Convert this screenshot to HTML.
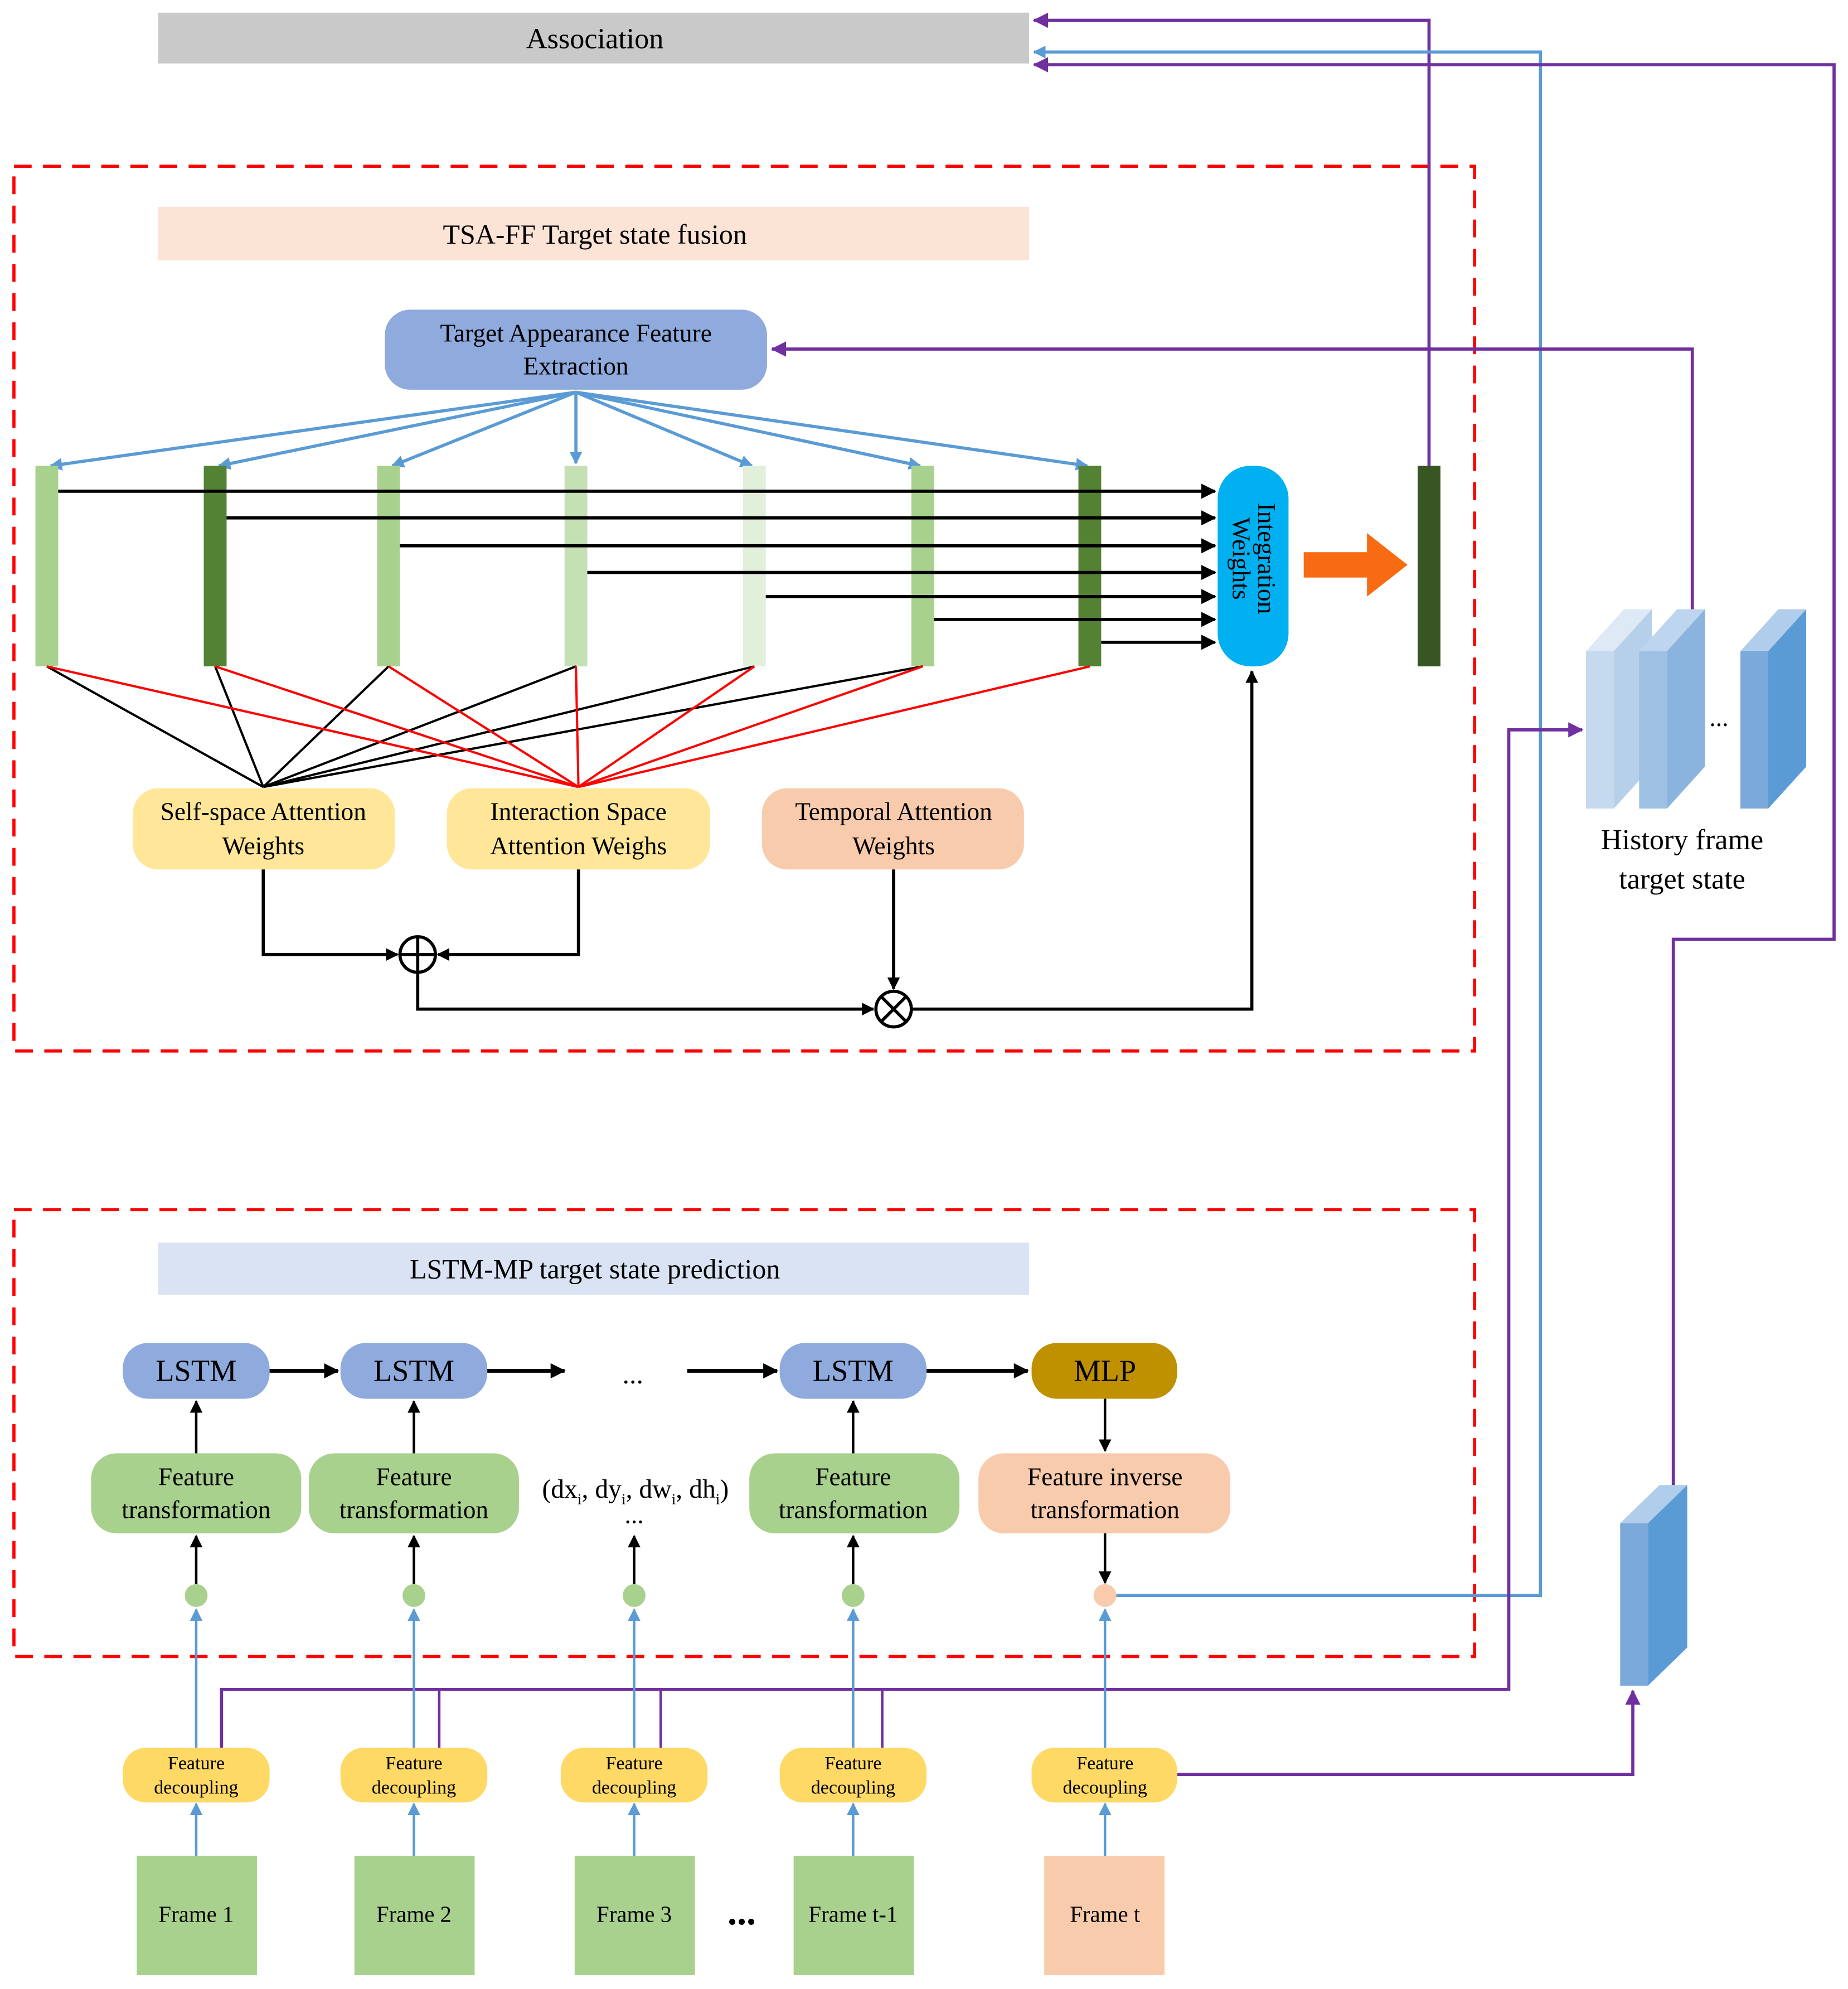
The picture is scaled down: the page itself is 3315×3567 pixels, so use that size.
<!DOCTYPE html>
<html><head><meta charset="utf-8"><style>html,body{margin:0;padding:0;background:#fff}svg{display:block}</style></head>
<body>
<svg width="3315" height="3567" viewBox="0 0 1460 1567" preserveAspectRatio="none" xmlns="http://www.w3.org/2000/svg" font-family="'Liberation Serif', serif">
<defs>
<marker id="ab" markerWidth="10" markerHeight="10" refX="9" refY="5" orient="auto" markerUnits="userSpaceOnUse"><path d="M0,0 L10,5 L0,10 z" fill="#000"/></marker>
<marker id="abb" markerWidth="12" markerHeight="12" refX="11" refY="6" orient="auto" markerUnits="userSpaceOnUse"><path d="M0,0 L12,6 L0,12 z" fill="#000"/></marker>
<marker id="al" markerWidth="10" markerHeight="10" refX="9" refY="5" orient="auto" markerUnits="userSpaceOnUse"><path d="M0,0 L10,5 L0,10 z" fill="#5b9bd5"/></marker>
<marker id="ap" markerWidth="12" markerHeight="12" refX="11" refY="6" orient="auto" markerUnits="userSpaceOnUse"><path d="M0,0 L12,6 L0,12 z" fill="#7030a0"/></marker>
</defs>

<rect x="125" y="10" width="688" height="40" fill="#c9c9c9"/>
<text x="470" y="38" font-size="23" text-anchor="middle">Association</text>

<rect x="11" y="131" width="1154" height="697" fill="none" stroke="#ff0000" stroke-width="2.5" stroke-dasharray="14,9"/>
<rect x="11" y="953" width="1154" height="352" fill="none" stroke="#ff0000" stroke-width="2.5" stroke-dasharray="14,9"/>

<rect x="125" y="163" width="688" height="42" fill="#fbe3d5"/>
<text x="470" y="192" font-size="22" text-anchor="middle">TSA-FF  Target state fusion</text>

<g fill="none" stroke-width="2.5">
<path d="M1129,367 V16 H817" stroke="#7030a0" marker-end="url(#ap)"/>
<path d="M873,1257 H1217 V41 H817" stroke="#5b9bd5" marker-end="url(#al)"/>
<path d="M1322,1170 V740 H1449 V51 H817" stroke="#7030a0" marker-end="url(#ap)"/>
<path d="M1337,480 V275 H610" stroke="#7030a0" marker-end="url(#ap)"/>
<path d="M175,1378 V1331 H1192 V575 H1250" stroke="#7030a0" marker-end="url(#ap)"/>
<path d="M347,1378 V1331 M522,1378 V1331 M697,1378 V1331" stroke="#7030a0" stroke-width="2"/>
<path d="M930,1398 H1290 V1332" stroke="#7030a0" marker-end="url(#ap)"/>
</g>

<rect x="304" y="244" width="302" height="63" rx="20" fill="#8faadc"/>
<text x="455" y="269" font-size="20" text-anchor="middle">Target Appearance Feature</text>
<text x="455" y="295" font-size="20" text-anchor="middle">Extraction</text>

<g stroke="#5b9bd5" stroke-width="2.5" marker-end="url(#al)">
<line x1="455" y1="309" x2="40" y2="367"/>
<line x1="455" y1="309" x2="173" y2="367"/>
<line x1="455" y1="309" x2="310" y2="367"/>
<line x1="455" y1="309" x2="455" y2="365"/>
<line x1="455" y1="309" x2="594" y2="367"/>
<line x1="455" y1="309" x2="727" y2="367"/>
<line x1="455" y1="309" x2="859" y2="367"/>
</g>

<rect x="28" y="367" width="18" height="158" fill="#a9d18e"/>
<rect x="161" y="367" width="18" height="158" fill="#548235"/>
<rect x="298" y="367" width="18" height="158" fill="#a9d18e"/>
<rect x="446" y="367" width="18" height="158" fill="#c5e0b4"/>
<rect x="587" y="367" width="18" height="158" fill="#e2efda"/>
<rect x="720" y="367" width="18" height="158" fill="#a9d18e"/>
<rect x="852" y="367" width="18" height="158" fill="#548235"/>
<rect x="1120" y="367" width="18" height="158" fill="#375623"/>

<g stroke="#000" stroke-width="2.5" marker-end="url(#abb)">
<line x1="46" y1="387" x2="960" y2="387"/>
<line x1="179" y1="408" x2="960" y2="408"/>
<line x1="316" y1="430" x2="960" y2="430"/>
<line x1="464" y1="451" x2="960" y2="451"/>
<line x1="605" y1="470" x2="960" y2="470"/>
<line x1="738" y1="488" x2="960" y2="488"/>
<line x1="870" y1="506" x2="960" y2="506"/>
</g>
<rect x="962" y="367" width="56" height="158" rx="26" fill="#00b0f0"/>
<text transform="translate(990,440) rotate(90)" font-size="20" text-anchor="middle"><tspan x="0" y="-4">Integration</tspan><tspan x="0" y="16">Weights</tspan></text>
<path d="M1030,435 H1080 V420 L1112,445 L1080,470 V455 H1030 z" fill="#f96b12"/>

<g stroke="#000" stroke-width="1.8">
<line x1="37" y1="525" x2="208" y2="620"/><line x1="170" y1="525" x2="208" y2="620"/>
<line x1="307" y1="525" x2="208" y2="620"/><line x1="455" y1="525" x2="208" y2="620"/>
<line x1="596" y1="525" x2="208" y2="620"/><line x1="729" y1="525" x2="208" y2="620"/>
</g>
<g stroke="#ff0000" stroke-width="1.8">
<line x1="37" y1="525" x2="457" y2="620"/><line x1="170" y1="525" x2="457" y2="620"/>
<line x1="307" y1="525" x2="457" y2="620"/><line x1="455" y1="525" x2="457" y2="620"/>
<line x1="596" y1="525" x2="457" y2="620"/><line x1="729" y1="525" x2="457" y2="620"/>
<line x1="861" y1="525" x2="457" y2="620"/>
</g>

<rect x="105" y="621" width="207" height="64" rx="20" fill="#ffe699"/>
<text x="208" y="646" font-size="20" text-anchor="middle">Self-space Attention</text>
<text x="208" y="673" font-size="20" text-anchor="middle">Weights</text>
<rect x="353" y="621" width="208" height="64" rx="20" fill="#ffe699"/>
<text x="457" y="646" font-size="20" text-anchor="middle">Interaction Space</text>
<text x="457" y="673" font-size="20" text-anchor="middle">Attention Weighs</text>
<rect x="602" y="621" width="207" height="64" rx="20" fill="#f8cbad"/>
<text x="706" y="646" font-size="20" text-anchor="middle">Temporal Attention</text>
<text x="706" y="673" font-size="20" text-anchor="middle">Weights</text>

<g fill="none" stroke="#000" stroke-width="2.5">
<path d="M208,685 V752 H314" marker-end="url(#ab)"/>
<path d="M457,685 V752 H346" marker-end="url(#ab)"/>
<path d="M330,766 V795 H690" marker-end="url(#ab)"/>
<path d="M706,685 V779" marker-end="url(#ab)"/>
<path d="M720,795 H989 V529" marker-end="url(#ab)"/>
<circle cx="330" cy="752" r="14" fill="#fff"/>
<path d="M316,752 H344 M330,738 V766"/>
<circle cx="706" cy="795" r="14" fill="#fff"/>
<path d="M696,785 L716,805 M716,785 L696,805"/>
</g>

<g>
<polygon points="1253,513 1275,513 1305,480 1283,480" fill="#ddeaf6"/>
<rect x="1253" y="513" width="22" height="124" fill="#c5daef"/>
<polygon points="1275,513 1305,480 1305,604 1275,637" fill="#b7d0ea"/>
<polygon points="1295,513 1317,513 1347,480 1325,480" fill="#bdd5ee"/>
<rect x="1295" y="513" width="22" height="124" fill="#9dc0e3"/>
<polygon points="1317,513 1347,480 1347,604 1317,637" fill="#8ab4de"/>
<polygon points="1375,513 1397,513 1427,480 1405,480" fill="#b0cdeb"/>
<rect x="1375" y="513" width="22" height="124" fill="#7aa9da"/>
<polygon points="1397,513 1427,480 1427,604 1397,637" fill="#5b9bd5"/>
<text x="1358" y="572" font-size="20" text-anchor="middle">...</text>
<text x="1329" y="669" font-size="23" text-anchor="middle">History frame</text>
<text x="1329" y="700" font-size="23" text-anchor="middle">target state</text>
<polygon points="1280,1200 1302,1200 1333,1170 1311,1170" fill="#b0cdeb"/>
<rect x="1280" y="1200" width="22" height="128" fill="#7aa9da"/>
<polygon points="1302,1200 1333,1170 1333,1298 1302,1328" fill="#5b9bd5"/>
</g>

<rect x="125" y="979" width="688" height="41" fill="#dae3f3"/>
<text x="470" y="1007" font-size="22" text-anchor="middle">LSTM-MP  target state prediction</text>

<g font-size="24" text-anchor="middle">
<rect x="97" y="1058" width="116" height="44" rx="20" fill="#8faadc"/><text x="155" y="1088">LSTM</text>
<rect x="269" y="1058" width="116" height="44" rx="20" fill="#8faadc"/><text x="327" y="1088">LSTM</text>
<rect x="616" y="1058" width="116" height="44" rx="20" fill="#8faadc"/><text x="674" y="1088">LSTM</text>
<rect x="815" y="1058" width="115" height="44" rx="20" fill="#bf9000"/><text x="873" y="1088">MLP</text>
</g>
<text x="500" y="1090" font-size="22" text-anchor="middle">...</text>
<g stroke="#000" stroke-width="3" marker-end="url(#abb)">
<line x1="213" y1="1080" x2="267" y2="1080"/>
<line x1="385" y1="1080" x2="446" y2="1080"/>
<line x1="543" y1="1080" x2="614" y2="1080"/>
<line x1="732" y1="1080" x2="812" y2="1080"/>
</g>

<g font-size="20" text-anchor="middle">
<rect x="72" y="1145" width="166" height="63" rx="20" fill="#a9d18e"/><text x="155" y="1170">Feature</text><text x="155" y="1196">transformation</text>
<rect x="244" y="1145" width="166" height="63" rx="20" fill="#a9d18e"/><text x="327" y="1170">Feature</text><text x="327" y="1196">transformation</text>
<rect x="592" y="1145" width="166" height="63" rx="20" fill="#a9d18e"/><text x="674" y="1170">Feature</text><text x="674" y="1196">transformation</text>
<rect x="773" y="1145" width="199" height="63" rx="20" fill="#f8cbad"/><text x="873" y="1170">Feature inverse</text><text x="873" y="1196">transformation</text>
<text x="502" y="1180" font-size="21">(dx<tspan font-size="12" dy="5">i</tspan><tspan dy="-5">, dy</tspan><tspan font-size="12" dy="5">i</tspan><tspan dy="-5">, dw</tspan><tspan font-size="12" dy="5">i</tspan><tspan dy="-5">, dh</tspan><tspan font-size="12" dy="5">i</tspan><tspan dy="-5">)</tspan></text>
<text x="501" y="1200" font-size="20">...</text>
</g>

<g stroke="#000" stroke-width="2" marker-end="url(#ab)">
<line x1="155" y1="1145" x2="155" y2="1104"/><line x1="327" y1="1145" x2="327" y2="1104"/><line x1="674" y1="1145" x2="674" y2="1104"/>
<line x1="873" y1="1102" x2="873" y2="1143"/>
<line x1="155" y1="1248" x2="155" y2="1210"/><line x1="327" y1="1248" x2="327" y2="1210"/><line x1="501" y1="1248" x2="501" y2="1210"/><line x1="674" y1="1248" x2="674" y2="1210"/>
<line x1="873" y1="1208" x2="873" y2="1247"/>
</g>
<g fill="#a9d18e">
<circle cx="155" cy="1257" r="9"/><circle cx="327" cy="1257" r="9"/><circle cx="501" cy="1257" r="9"/><circle cx="674" cy="1257" r="9"/>
</g>
<circle cx="873" cy="1257" r="9" fill="#f8cbad"/>

<g stroke="#5b9bd5" stroke-width="2" marker-end="url(#al)">
<line x1="155" y1="1377" x2="155" y2="1268"/><line x1="327" y1="1377" x2="327" y2="1268"/><line x1="501" y1="1377" x2="501" y2="1268"/><line x1="674" y1="1377" x2="674" y2="1268"/><line x1="873" y1="1377" x2="873" y2="1268"/>
<line x1="155" y1="1462" x2="155" y2="1421"/><line x1="327" y1="1462" x2="327" y2="1421"/><line x1="501" y1="1462" x2="501" y2="1421"/><line x1="674" y1="1462" x2="674" y2="1421"/><line x1="873" y1="1462" x2="873" y2="1421"/>
</g>

<g font-size="15" text-anchor="middle">
<rect x="97" y="1377" width="116" height="43" rx="18" fill="#ffd966"/><text x="155" y="1394">Feature</text><text x="155" y="1413">decoupling</text>
<rect x="269" y="1377" width="116" height="43" rx="18" fill="#ffd966"/><text x="327" y="1394">Feature</text><text x="327" y="1413">decoupling</text>
<rect x="443" y="1377" width="116" height="43" rx="18" fill="#ffd966"/><text x="501" y="1394">Feature</text><text x="501" y="1413">decoupling</text>
<rect x="616" y="1377" width="116" height="43" rx="18" fill="#ffd966"/><text x="674" y="1394">Feature</text><text x="674" y="1413">decoupling</text>
<rect x="815" y="1377" width="115" height="43" rx="18" fill="#ffd966"/><text x="873" y="1394">Feature</text><text x="873" y="1413">decoupling</text>
</g>

<g font-size="18" text-anchor="middle">
<rect x="108" y="1462" width="95" height="94" fill="#a9d18e"/><text x="155" y="1514">Frame 1</text>
<rect x="280" y="1462" width="95" height="94" fill="#a9d18e"/><text x="327" y="1514">Frame 2</text>
<rect x="454" y="1462" width="95" height="94" fill="#a9d18e"/><text x="501" y="1514">Frame 3</text>
<rect x="627" y="1462" width="95" height="94" fill="#a9d18e"/><text x="674" y="1514">Frame t-1</text>
<rect x="825" y="1462" width="95" height="94" fill="#f8cbad"/><text x="873" y="1514">Frame t</text>
<text x="586" y="1516" font-size="30" font-weight="bold">...</text>
</g>
</svg>
</body></html>
